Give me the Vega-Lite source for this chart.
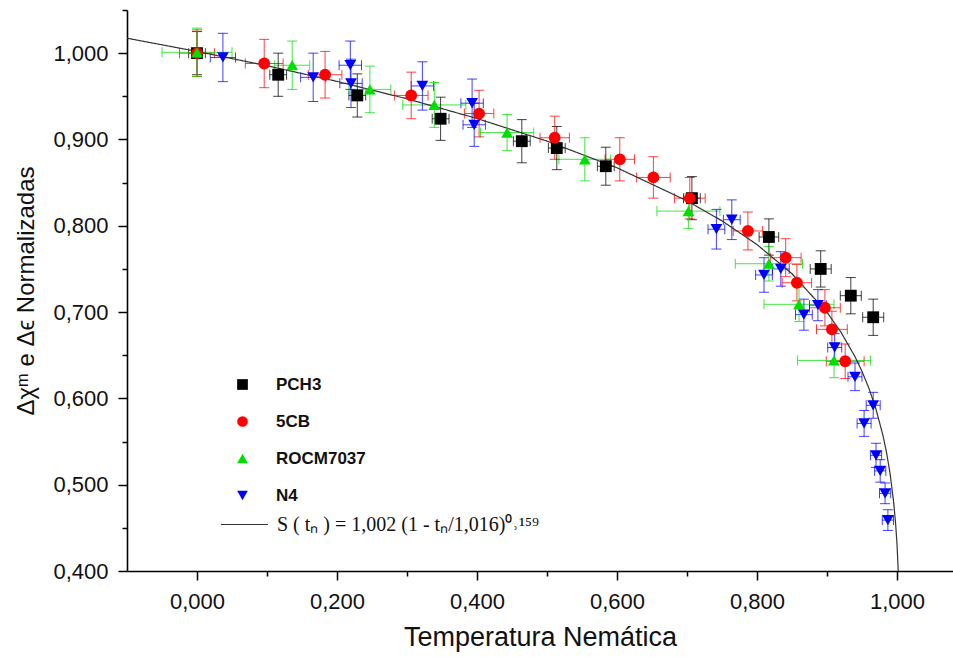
{
  "$schema": "https://vega.github.io/schema/vega-lite/v6.json",
  "width": 826,
  "height": 561,
  "autosize": {"type": "none"},
  "padding": {"left": 127, "top": 10, "right": 0, "bottom": 86},
  "background": "white",
  "config": {
    "view": {"stroke": null},
    "axis": {
      "domainColor": "#000000",
      "domainWidth": 1.6,
      "tickColor": "#000000",
      "tickWidth": 1.5,
      "grid": false,
      "labelFont": "Liberation Sans",
      "labelFontSize": 22,
      "labelColor": "#111111",
      "titleFont": "Liberation Sans",
      "titleFontWeight": "normal",
      "titleColor": "#111111"
    }
  },
  "resolve": {"legend": {"color": "independent", "shape": "independent"}},
  "datasets": {
    "pts": [
      {"s": "PCH3", "x": 0.000, "y": 1.000, "xe": 0.012, "ye": 0.025},
      {"s": "PCH3", "x": 0.116, "y": 0.975, "xe": 0.012, "ye": 0.025},
      {"s": "PCH3", "x": 0.229, "y": 0.951, "xe": 0.012, "ye": 0.025},
      {"s": "PCH3", "x": 0.348, "y": 0.924, "xe": 0.012, "ye": 0.025},
      {"s": "PCH3", "x": 0.464, "y": 0.898, "xe": 0.012, "ye": 0.025},
      {"s": "PCH3", "x": 0.514, "y": 0.890, "xe": 0.012, "ye": 0.025},
      {"s": "PCH3", "x": 0.584, "y": 0.869, "xe": 0.012, "ye": 0.022},
      {"s": "PCH3", "x": 0.707, "y": 0.832, "xe": 0.012, "ye": 0.025},
      {"s": "PCH3", "x": 0.817, "y": 0.787, "xe": 0.014, "ye": 0.021},
      {"s": "PCH3", "x": 0.891, "y": 0.750, "xe": 0.015, "ye": 0.021},
      {"s": "PCH3", "x": 0.934, "y": 0.719, "xe": 0.015, "ye": 0.021},
      {"s": "PCH3", "x": 0.966, "y": 0.694, "xe": 0.015, "ye": 0.021},
      {"s": "5CB", "x": 0.000, "y": 1.000, "xe": 0.025, "ye": 0.027},
      {"s": "5CB", "x": 0.096, "y": 0.988, "xe": 0.027, "ye": 0.028},
      {"s": "5CB", "x": 0.183, "y": 0.975, "xe": 0.024, "ye": 0.027},
      {"s": "5CB", "x": 0.306, "y": 0.951, "xe": 0.024, "ye": 0.027},
      {"s": "5CB", "x": 0.403, "y": 0.930, "xe": 0.021, "ye": 0.027},
      {"s": "5CB", "x": 0.511, "y": 0.902, "xe": 0.021, "ye": 0.025},
      {"s": "5CB", "x": 0.604, "y": 0.877, "xe": 0.021, "ye": 0.025},
      {"s": "5CB", "x": 0.652, "y": 0.856, "xe": 0.024, "ye": 0.024},
      {"s": "5CB", "x": 0.704, "y": 0.832, "xe": 0.022, "ye": 0.024},
      {"s": "5CB", "x": 0.787, "y": 0.794, "xe": 0.021, "ye": 0.022},
      {"s": "5CB", "x": 0.841, "y": 0.763, "xe": 0.022, "ye": 0.022},
      {"s": "5CB", "x": 0.857, "y": 0.734, "xe": 0.021, "ye": 0.021},
      {"s": "5CB", "x": 0.897, "y": 0.705, "xe": 0.022, "ye": 0.021},
      {"s": "5CB", "x": 0.907, "y": 0.680, "xe": 0.022, "ye": 0.021},
      {"s": "5CB", "x": 0.926, "y": 0.643, "xe": 0.027, "ye": 0.020},
      {"s": "ROCM7037", "x": 0.000, "y": 1.001, "xe": 0.050, "ye": 0.028},
      {"s": "ROCM7037", "x": 0.136, "y": 0.986, "xe": 0.025, "ye": 0.028},
      {"s": "ROCM7037", "x": 0.247, "y": 0.958, "xe": 0.030, "ye": 0.027},
      {"s": "ROCM7037", "x": 0.339, "y": 0.940, "xe": 0.045, "ye": 0.026},
      {"s": "ROCM7037", "x": 0.443, "y": 0.908, "xe": 0.038, "ye": 0.021},
      {"s": "ROCM7037", "x": 0.554, "y": 0.877, "xe": 0.037, "ye": 0.025},
      {"s": "ROCM7037", "x": 0.702, "y": 0.817, "xe": 0.045, "ye": 0.020},
      {"s": "ROCM7037", "x": 0.817, "y": 0.756, "xe": 0.048, "ye": 0.020},
      {"s": "ROCM7037", "x": 0.860, "y": 0.709, "xe": 0.050, "ye": 0.020},
      {"s": "ROCM7037", "x": 0.910, "y": 0.644, "xe": 0.052, "ye": 0.020},
      {"s": "N4", "x": 0.037, "y": 0.995, "xe": 0.018, "ye": 0.028},
      {"s": "N4", "x": 0.166, "y": 0.972, "xe": 0.018, "ye": 0.028},
      {"s": "N4", "x": 0.219, "y": 0.986, "xe": 0.016, "ye": 0.028},
      {"s": "N4", "x": 0.220, "y": 0.965, "xe": 0.016, "ye": 0.028},
      {"s": "N4", "x": 0.322, "y": 0.962, "xe": 0.016, "ye": 0.028},
      {"s": "N4", "x": 0.393, "y": 0.942, "xe": 0.016, "ye": 0.028},
      {"s": "N4", "x": 0.396, "y": 0.917, "xe": 0.016, "ye": 0.025},
      {"s": "N4", "x": 0.742, "y": 0.796, "xe": 0.012, "ye": 0.023},
      {"s": "N4", "x": 0.764, "y": 0.807, "xe": 0.012, "ye": 0.023},
      {"s": "N4", "x": 0.810, "y": 0.743, "xe": 0.012, "ye": 0.020},
      {"s": "N4", "x": 0.834, "y": 0.750, "xe": 0.012, "ye": 0.020},
      {"s": "N4", "x": 0.887, "y": 0.708, "xe": 0.012, "ye": 0.018},
      {"s": "N4", "x": 0.867, "y": 0.697, "xe": 0.012, "ye": 0.018},
      {"s": "N4", "x": 0.911, "y": 0.659, "xe": 0.010, "ye": 0.016},
      {"s": "N4", "x": 0.940, "y": 0.625, "xe": 0.010, "ye": 0.016},
      {"s": "N4", "x": 0.966, "y": 0.592, "xe": 0.010, "ye": 0.015},
      {"s": "N4", "x": 0.953, "y": 0.571, "xe": 0.010, "ye": 0.015},
      {"s": "N4", "x": 0.970, "y": 0.534, "xe": 0.008, "ye": 0.014},
      {"s": "N4", "x": 0.976, "y": 0.516, "xe": 0.008, "ye": 0.013},
      {"s": "N4", "x": 0.983, "y": 0.490, "xe": 0.008, "ye": 0.012},
      {"s": "N4", "x": 0.987, "y": 0.459, "xe": 0.008, "ye": 0.012}
    ],
    "fit": [
      {"f": "S ( tₙ ) = 1,002 (1 - tₙ/1,016)⁰˒¹⁵⁹", "x": -0.1, "y": 1.0173},
      {"f": "S ( tₙ ) = 1,002 (1 - tₙ/1,016)⁰˒¹⁵⁹", "x": 0.0, "y": 1.002},
      {"f": "S ( tₙ ) = 1,002 (1 - tₙ/1,016)⁰˒¹⁵⁹", "x": 0.1, "y": 0.9854},
      {"f": "S ( tₙ ) = 1,002 (1 - tₙ/1,016)⁰˒¹⁵⁹", "x": 0.2, "y": 0.9673},
      {"f": "S ( tₙ ) = 1,002 (1 - tₙ/1,016)⁰˒¹⁵⁹", "x": 0.3, "y": 0.9471},
      {"f": "S ( tₙ ) = 1,002 (1 - tₙ/1,016)⁰˒¹⁵⁹", "x": 0.4, "y": 0.9243},
      {"f": "S ( tₙ ) = 1,002 (1 - tₙ/1,016)⁰˒¹⁵⁹", "x": 0.5, "y": 0.8981},
      {"f": "S ( tₙ ) = 1,002 (1 - tₙ/1,016)⁰˒¹⁵⁹", "x": 0.6, "y": 0.8672},
      {"f": "S ( tₙ ) = 1,002 (1 - tₙ/1,016)⁰˒¹⁵⁹", "x": 0.7, "y": 0.8289},
      {"f": "S ( tₙ ) = 1,002 (1 - tₙ/1,016)⁰˒¹⁵⁹", "x": 0.75, "y": 0.8057},
      {"f": "S ( tₙ ) = 1,002 (1 - tₙ/1,016)⁰˒¹⁵⁹", "x": 0.8, "y": 0.7782},
      {"f": "S ( tₙ ) = 1,002 (1 - tₙ/1,016)⁰˒¹⁵⁹", "x": 0.85, "y": 0.7444},
      {"f": "S ( tₙ ) = 1,002 (1 - tₙ/1,016)⁰˒¹⁵⁹", "x": 0.9, "y": 0.6997},
      {"f": "S ( tₙ ) = 1,002 (1 - tₙ/1,016)⁰˒¹⁵⁹", "x": 0.92, "y": 0.6766},
      {"f": "S ( tₙ ) = 1,002 (1 - tₙ/1,016)⁰˒¹⁵⁹", "x": 0.94, "y": 0.6483},
      {"f": "S ( tₙ ) = 1,002 (1 - tₙ/1,016)⁰˒¹⁵⁹", "x": 0.95, "y": 0.6313},
      {"f": "S ( tₙ ) = 1,002 (1 - tₙ/1,016)⁰˒¹⁵⁹", "x": 0.96, "y": 0.6115},
      {"f": "S ( tₙ ) = 1,002 (1 - tₙ/1,016)⁰˒¹⁵⁹", "x": 0.97, "y": 0.5875},
      {"f": "S ( tₙ ) = 1,002 (1 - tₙ/1,016)⁰˒¹⁵⁹", "x": 0.98, "y": 0.5569},
      {"f": "S ( tₙ ) = 1,002 (1 - tₙ/1,016)⁰˒¹⁵⁹", "x": 0.985, "y": 0.5375},
      {"f": "S ( tₙ ) = 1,002 (1 - tₙ/1,016)⁰˒¹⁵⁹", "x": 0.99, "y": 0.5135},
      {"f": "S ( tₙ ) = 1,002 (1 - tₙ/1,016)⁰˒¹⁵⁹", "x": 0.995, "y": 0.4814},
      {"f": "S ( tₙ ) = 1,002 (1 - tₙ/1,016)⁰˒¹⁵⁹", "x": 0.998, "y": 0.4549},
      {"f": "S ( tₙ ) = 1,002 (1 - tₙ/1,016)⁰˒¹⁵⁹", "x": 1.0, "y": 0.4313},
      {"f": "S ( tₙ ) = 1,002 (1 - tₙ/1,016)⁰˒¹⁵⁹", "x": 1.0019, "y": 0.398}
    ]
  },
  "layer": [
    {
      "data": {"name": "pts"},
      "mark": {"type": "errorbar", "ticks": {"size": 10}, "thickness": 1, "opacity": 0.75},
      "encoding": {
        "x": {"field": "x", "type": "quantitative", "title": "Temperatura Nemática"},
        "xError": {"field": "xe"},
        "y": {"field": "y", "type": "quantitative", "title": "Δχᵐ e Δϵ Normalizadas"},
        "color": {"field": "s", "type": "nominal", "legend": null}
      }
    },
    {
      "data": {"name": "pts"},
      "mark": {"type": "errorbar", "ticks": {"size": 10}, "thickness": 1, "opacity": 0.75},
      "encoding": {
        "x": {"field": "x", "type": "quantitative", "title": "Temperatura Nemática"},
        "y": {"field": "y", "type": "quantitative", "title": "Δχᵐ e Δϵ Normalizadas"},
        "yError": {"field": "ye"},
        "color": {"field": "s", "type": "nominal", "legend": null}
      }
    },
    {
      "data": {"name": "fit"},
      "mark": {"type": "line", "color": "#333333", "strokeWidth": 1.2, "clip": true},
      "encoding": {
        "x": {"field": "x", "type": "quantitative", "title": "Temperatura Nemática"},
        "y": {"field": "y", "type": "quantitative", "title": "Δχᵐ e Δϵ Normalizadas"},
        "strokeDash": {
          "field": "f", "type": "nominal",
          "scale": {"range": [[1, 0]]},
          "legend": {
            "orient": "none", "legendX": 93, "legendY": 490, "title": null, "padding": 0,
            "symbolType": "stroke", "symbolSize": 2209, "symbolStrokeColor": "#333333", "symbolStrokeWidth": 1.2,
            "labelFont": "Liberation Serif", "labelFontSize": 20, "labelColor": "#111111", "labelOffset": 8, "labelLimit": 400
          }
        }
      }
    },
    {
      "data": {"name": "pts"},
      "mark": {"type": "point", "filled": true, "size": 140, "opacity": 1},
      "encoding": {
        "x": {
          "field": "x", "type": "quantitative",
          "title": "Temperatura Nemática",
          "scale": {"domain": [-0.1, 1.08], "nice": false, "zero": false},
          "axis": {
            "titleFontSize": 27,
            "titlePadding": 12,
            "values": [0, 0.1, 0.2, 0.3, 0.4, 0.5, 0.6, 0.7, 0.8, 0.9, 1.0],
            "labelExpr": "abs(datum.value*5 - round(datum.value*5)) < 0.001 ? replace(format(datum.value, '.3f'), '.', ',') : ''",
            "tickSize": {"condition": {"test": "abs(datum.value*5 - round(datum.value*5)) < 0.001", "value": 9}, "value": 5},
            "labelPadding": 11
          }
        },
        "y": {
          "field": "y", "type": "quantitative",
          "title": "Δχᵐ e Δϵ Normalizadas",
          "scale": {"domain": [0.4, 1.05], "nice": false, "zero": false},
          "axis": {
            "titleFontSize": 24,
            "titlePadding": 14,
            "values": [0.4, 0.45, 0.5, 0.55, 0.6, 0.65, 0.7, 0.75, 0.8, 0.85, 0.9, 0.95, 1.0, 1.05],
            "labelExpr": "abs(datum.value*10 - round(datum.value*10)) < 0.001 ? replace(format(datum.value, '.3f'), '.', ',') : ''",
            "tickSize": {"condition": {"test": "abs(datum.value*10 - round(datum.value*10)) < 0.001", "value": 9}, "value": 5},
            "labelPadding": 10
          }
        },
        "color": {
          "field": "s", "type": "nominal",
          "scale": {"domain": ["PCH3", "5CB", "ROCM7037", "N4"], "range": ["#000000", "#ff0000", "#00e000", "#0000ff"]},
          "legend": {
            "orient": "none", "legendX": 107, "legendY": 366, "title": null, "padding": 0,
            "symbolSize": 115, "rowPadding": 19, "labelOffset": 25,
            "labelFont": "Liberation Sans", "labelFontWeight": "bold", "labelFontSize": 17, "labelColor": "#111111"
          }
        },
        "shape": {
          "field": "s", "type": "nominal",
          "scale": {"domain": ["PCH3", "5CB", "ROCM7037", "N4"], "range": ["square", "circle", "triangle-up", "triangle-down"]},
          "legend": {
            "orient": "none", "legendX": 107, "legendY": 366, "title": null, "padding": 0,
            "symbolSize": 115, "rowPadding": 19, "labelOffset": 25,
            "labelFont": "Liberation Sans", "labelFontWeight": "bold", "labelFontSize": 17, "labelColor": "#111111"
          }
        }
      }
    }
  ]
}
